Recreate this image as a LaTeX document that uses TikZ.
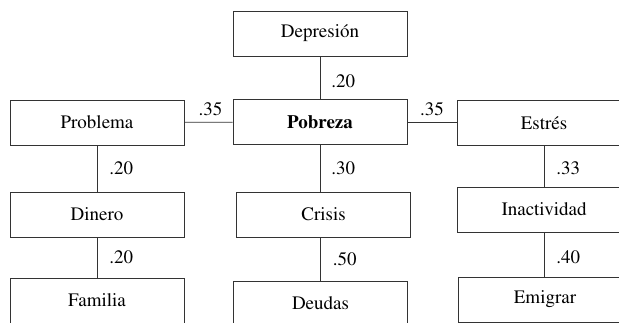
\documentclass[tikz,border=0pt]{standalone}
\usepackage[T1]{fontenc}
\usepackage{times}
\usetikzlibrary{shapes}

\tikzset{
    box/.style={draw=black!80,line width=0.8pt,rectangle,inner sep=0pt,
        minimum width=174pt,minimum height=45pt,font=\rmfamily\fontsize{19}{22}\selectfont},
    weight/.style={inner sep=0pt,font=\rmfamily\fontsize{19}{22}\selectfont},
    link/.style={draw=black!80,line width=0.8pt}
}

\begin{document}
\begin{tikzpicture}[x=1pt,y=-1pt]
        \useasboundingbox (0,0) rectangle (619,323);
        \clip (0,0) rectangle (619,323);
        \node[box] (dep) at (320,33.5) {Depresi\'on};
        \node[box] (pro) at (97,122.5) {Problema};
        \node[box] (pob) at (320,122) {\bfseries Pobreza};
        \node[box] (est) at (544,123) {Estr\'es};
        \node[box] (din) at (97,214.5) {Dinero};
        \node[box] (cri) at (323.5,214.5) {Crisis};
        \node[box] (ina) at (544,209.5) {Inactividad};
        \node[box] (fam) at (97,300.5) {Familia};
        \node[box] (deu) at (320.5,303.5) {Deudas};
        \node[box] (emi) at (545,299.5) {Emigrar};
        % links with weights
        \draw[link] (dep) -- node[weight,anchor=west,xshift=11pt,yshift=-3.5pt] {.20} (pob);
        \draw[link] (pro) -- node[weight,anchor=south,yshift=6pt,xshift=2pt] {.35} (pob);
        \draw[link] (pob.east) -- node[weight,anchor=south,yshift=6pt] {.35} (pob.east -| est.west);
        \draw[link] (pro) -- node[weight,anchor=west,xshift=12pt] {.20} (din);
        \draw[link] (din) -- node[weight,anchor=west,xshift=12pt] {.20} (fam);
        \draw[link] (pob.south) -- node[weight,anchor=west,xshift=11pt] {.30} (pob.south |- cri.north);
        \draw[link] (deu.north |- cri.south) -- node[weight,anchor=west,xshift=12pt] {.50} (deu.north);
        \draw[link] (est) -- node[weight,anchor=west,xshift=12pt,yshift=-2pt] {.33} (ina);
        \draw[link] (ina.south) -- node[weight,anchor=west,xshift=12pt,yshift=-2.5pt] {.40} (ina.south |- emi.north);
    \end{tikzpicture}
\end{document}
